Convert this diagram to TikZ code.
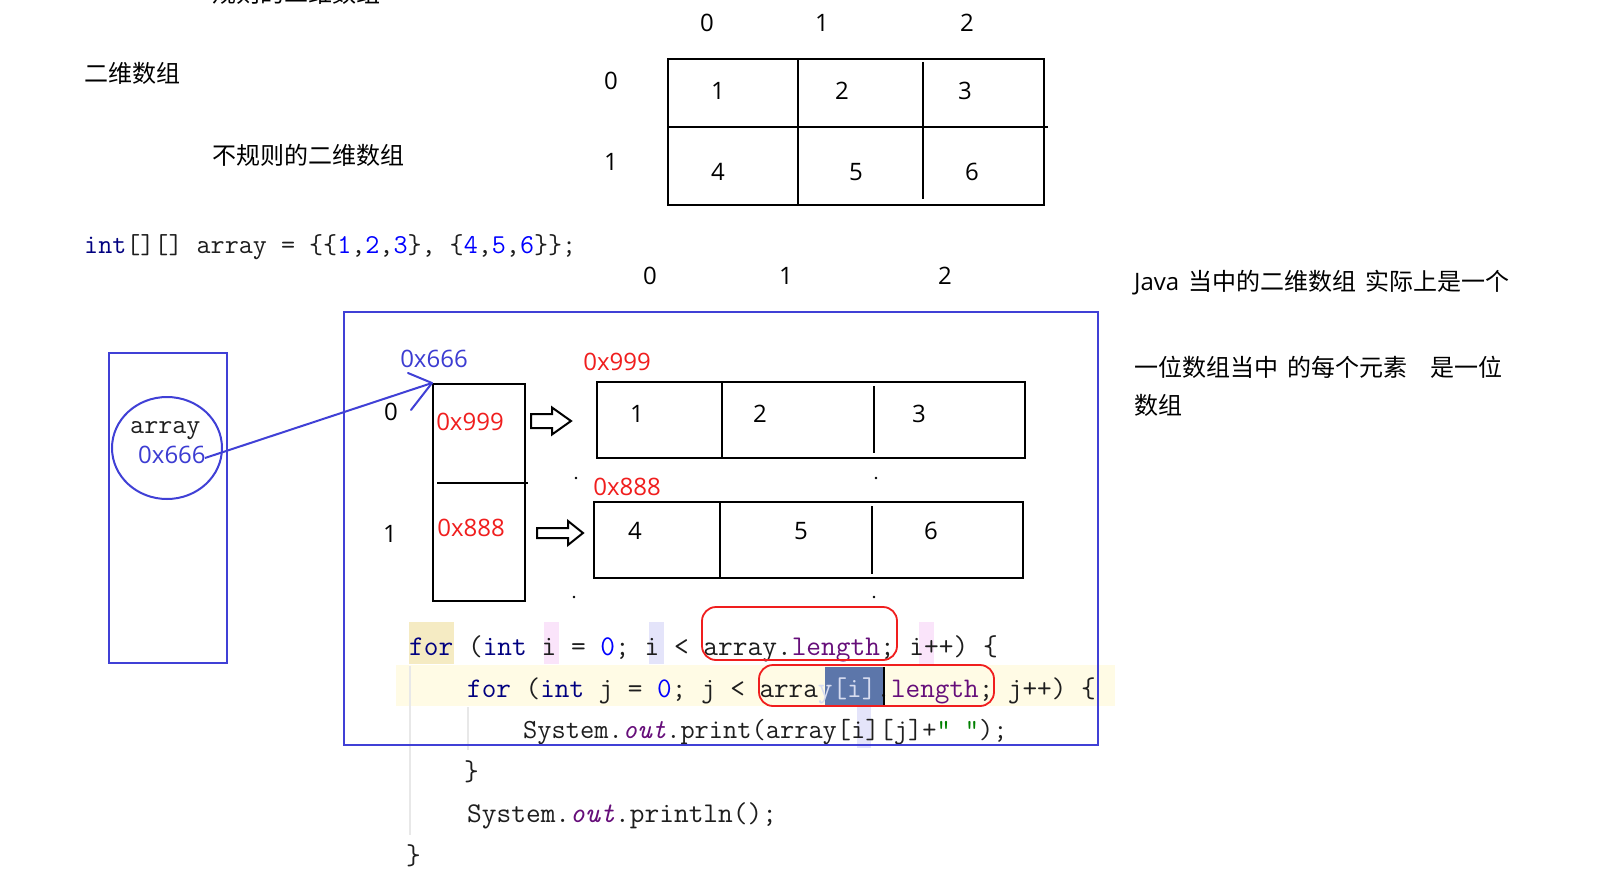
\documentclass[tikz,border=0pt]{standalone}
\usepackage{fontspec}
\setmainfont{Open Sans}
\newfontfamily\cjk{Noto Sans CJK SC}
\newfontfamily\codef{Latin Modern Mono}
\usetikzlibrary{shapes.geometric}
\definecolor{bluel}{RGB}{64,64,214}
\definecolor{hexblue}{RGB}{60,60,210}
\definecolor{myred}{RGB}{240,30,30}
\definecolor{navy}{RGB}{0,0,128}
\definecolor{cblue}{RGB}{0,0,255}
\definecolor{purp}{RGB}{102,14,122}
\definecolor{cgreen}{RGB}{0,128,0}
\definecolor{ctext}{RGB}{30,30,30}
\definecolor{tanbg}{RGB}{245,235,195}
\definecolor{pinkbg}{RGB}{250,228,250}
\definecolor{lavbg}{RGB}{228,228,250}
\definecolor{linebg}{RGB}{255,251,229}
\definecolor{selbg}{RGB}{92,118,170}
\definecolor{seltext}{RGB}{215,220,240}
\definecolor{guide}{RGB}{232,232,232}
\newcommand{\csp}{\hspace{9pt}}
\begin{document}
\begin{tikzpicture}[x=1pt,y=-1pt,
  cn/.style={font=\cjk\fontsize{24}{28}\selectfont, anchor=west, inner sep=0pt, text=black},
  num/.style={font=\fontsize{24}{28}\selectfont, inner sep=0pt, text=black},
  hexr/.style={num, text=myred},
  hexb/.style={num, text=hexblue},
  codeA/.style={font=\codef\fontsize{28.57}{32}\selectfont, anchor=base west, inner sep=0pt, text=ctext},
  codeB/.style={font=\codef\fontsize{28.38}{32}\selectfont, anchor=base west, inner sep=0pt, text=ctext},
  codeC/.style={font=\codef\fontsize{27.62}{32}\selectfont, anchor=base west, inner sep=0pt, text=ctext},
  codesm/.style={font=\codef\fontsize{27.3}{30}\selectfont, anchor=base west, inner sep=0pt, text=ctext},
  grid/.style={draw=black, line width=2.4pt},
  bluebox/.style={draw=bluel, line width=2pt},
  redbox/.style={draw=myred, line width=1.8pt, rounded corners=14pt},
  blockarrow/.style={draw=black, fill=white, line width=2pt, line join=miter}
]
\useasboundingbox (0,0) rectangle (1599,875);
\fill[white] (0,0) rectangle (1599,875);

% ---------- top texts ----------
\node[cn] (cut) at (212,-7) {规则的二维数组};
\node[cn] (t2d) at (84,73) {二维数组};
\node[cn] (tirr) at (212,155) {不规则的二维数组};

% ---------- top matrix ----------
\draw[grid] (668,59) rectangle (1044,205);
\draw[grid] (668,127) -- (1048,127);
\draw[grid] (798,59) -- (798,205);
\draw[grid] (923,62) -- (923,199);
\node[num] (c0) at (707,23) {0};
\node[num] (c1) at (822,23) {1};
\node[num] (c2) at (967,23) {2};
\node[num] (r0) at (611,81) {0};
\node[num] (r1) at (611,162) {1};
\node[num] (m1) at (718,91) {1};
\node[num] (m2) at (842,91) {2};
\node[num] (m3) at (965,91) {3};
\node[num] (m4) at (718,172) {4};
\node[num] (m5) at (856,172) {5};
\node[num] (m6) at (972,172) {6};

% ---------- declaration ----------
\node[codesm] (decl) at (84,253) {\textcolor{navy}{int}[][] array = \{\{\textcolor{cblue}{1},\textcolor{cblue}{2},\textcolor{cblue}{3}\}, \{\textcolor{cblue}{4},\textcolor{cblue}{5},\textcolor{cblue}{6}\}\};};

% ---------- second index labels ----------
\node[num] (d0) at (650,276) {0};
\node[num] (d1) at (786,276) {1};
\node[num] (d2) at (945,276) {2};

% ---------- right explanation ----------
\node[cn] (e1) at (1134,283) {{\rmfamily Java}\csp 当中的二维数组\csp 实际上是一个};
\node[cn] (e2) at (1134,367) {一位数组当中\csp 的每个元素\hspace{23pt}是一位};
\node[cn] (e3) at (1134,405) {数组};

% ---------- code highlights ----------
\fill[linebg] (396,665) rectangle (1115,706);
\fill[tanbg] (409,622) rectangle (454,664);
\fill[pinkbg] (544,622) rectangle (559,664);
\fill[lavbg] (649,622) rectangle (664,664);
\fill[pinkbg] (919,622) rectangle (934,664);
\fill[selbg] (824.6,667) rectangle (884.2,705);
\fill[lavbg] (856.5,706) rectangle (871,748);
\draw[guide, line width=1.2pt] (410,666) -- (410,835);
\draw[guide, line width=1.2pt] (468,707) -- (468,750);

% ---------- code ----------
\node[codeA] (l1) at (409,655) {\textcolor{navy}{for} (\textcolor{navy}{int} i = \textcolor{cblue}{0}; i < array.\textcolor{purp}{length}; i++) \{};
\node[codeB] (l2) at (467,697) {\textcolor{navy}{for} (\textcolor{navy}{int} j = \textcolor{cblue}{0}; j < arra\textcolor{seltext}{y[i]}.\textcolor{purp}{length}; j++) \{};
\node[codeC] (l3) at (523,738) {System.\textcolor{purp}{\itshape out}.print(array[i][j]+\textcolor{cgreen}{” ”});};
\node[codeA] (l4) at (464,780) {\}};
\node[codeA] (l5) at (467,822) {System.\textcolor{purp}{\itshape out}.println();};
\node[codeA] (l6) at (406,864) {\}};
\draw[black, line width=1.6pt] (884.2,667) -- (884.2,705);

% ---------- stack ----------
\draw[bluebox] (109,353) rectangle (227,663);
\node[ellipse, bluebox, minimum width=110pt, minimum height=102pt] (circ) at (167,448) {};
\node[codesm] (arrname) at (130,433) {array};
\node[num, text=hexblue, anchor=base west] (arrval) at (138,463) {0x666};

% ---------- heap ----------
\draw[bluebox] (344,312) rectangle (1098,745);
\node[draw=black, line width=2.4pt, anchor=north west, minimum width=92pt, minimum height=217pt, inner sep=0pt] (hb) at (432,383) {};
\draw[grid] (437,483) -- (528,483);
\node[hexb] (hbaddr) at (434,359) {0x666};
\node[hexr] (h0) at (470,422) {0x999};
\node[hexr] (h1) at (471,528) {0x888};
\node[num] (i0) at (391,412) {0};
\node[num] (i1) at (390,534) {1};

% pointer
\coordinate (ptr) at (205,458);
\draw[bluel, line width=2pt] (ptr) -- (hb.north west);
\draw[bluel, line width=2pt, line cap=round] (hb.north west) -- ++(-24,-10);
\draw[bluel, line width=2pt, line cap=round] (hb.north west) -- ++(-21,27);

% block arrows
\draw[blockarrow] (531,414) -- (552,414) -- (552,407.5) -- (571,421) -- (552,434.5) -- (552,428) -- (531,428) -- cycle;
\draw[blockarrow] (537,528) -- (568,528) -- (568,521) -- (583,533) -- (568,545) -- (568,538) -- (537,538) -- cycle;

% row arrays
\draw[grid] (597,382) rectangle (1025,458);
\draw[grid] (722,382) -- (722,458);
\draw[grid] (874,386) -- (874,453);
\draw[grid] (594,502) rectangle (1023,578);
\draw[grid] (720,502) -- (720,578);
\draw[grid] (872,506) -- (872,574);
\node[hexr] (a999) at (617,362) {0x999};
\node[hexr] (a888) at (627,487) {0x888};
\node[num] (v1) at (637,414) {1};
\node[num] (v2) at (760,414) {2};
\node[num] (v3) at (919,414) {3};
\node[num] (v4) at (635,531) {4};
\node[num] (v5) at (801,531) {5};
\node[num] (v6) at (931,531) {6};

% stray dots
\fill (576,478) circle (1.4);
\fill (876,478) circle (1.4);
\fill (574,597) circle (1.4);
\fill (874,597) circle (1.4);

% red marks
\draw[redbox] (702,607) rectangle (897,660);
\draw[redbox] (759,665) rectangle (994,706);
\end{tikzpicture}
\end{document}
